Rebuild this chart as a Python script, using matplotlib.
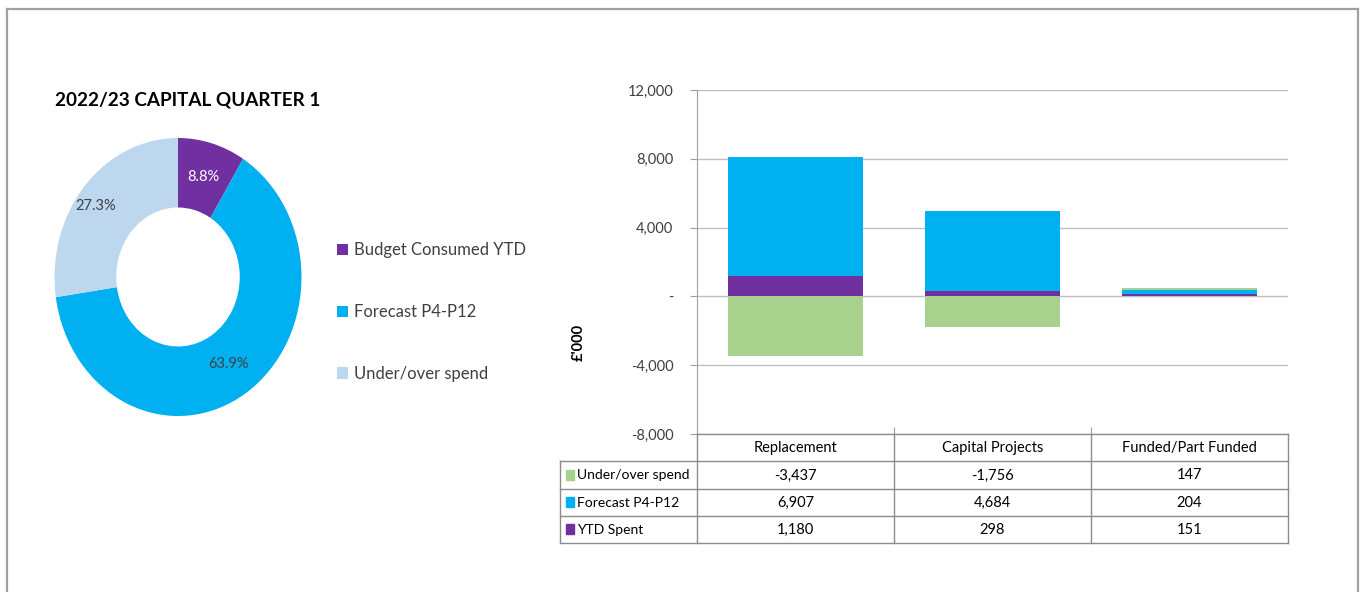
import numpy as np
import matplotlib
matplotlib.use("Agg")
import matplotlib.pyplot as plt
from matplotlib.lines import Line2D
from matplotlib.patches import Rectangle
from matplotlib.ticker import FuncFormatter

plt.rcParams['font.family'] = ['Lato', 'DejaVu Sans']

# data
categories = ["Replacement", "Capital Projects", "Funded/Part Funded"]
ytd_spent = [1180, 298, 151]
forecast = [6907, 4684, 204]
under_over = [-3437, -1756, 147]
pie_labels = ["Budget Consumed YTD", "Forecast P4-P12", "Under/over spend"]
y_ticks = [-8000, -4000, 0, 4000, 8000, 12000]

purple = "#7030A0"
blue = "#00B0F0"
lightblue = "#BDD7EE"
green = "#A9D18E"
txt = "#404040"
W, H = 1365, 592

fig = plt.figure(figsize=(W / 100, H / 100), dpi=100)


def box(l, t, r, b):
    return [l / W, (H - b) / H, (r - l) / W, (b - t) / H]


# outer frame
for xs, ys in [((7, 7), (9, 592)), ((7, 1358), (9, 9)), ((1358, 1358), (9, 592))]:
    fig.add_artist(Line2D([x / W for x in xs], [(H - y) / H for y in ys],
                          color="#A0A0A0", lw=1.6))

# donut
fig.text(55 / W, (H - 100) / H, "2022/23 CAPITAL QUARTER 1", fontsize=13.6,
         weight="bold", color="black", va="center", ha="left")
pie_vals = [sum(ytd_spent), sum(forecast), abs(sum(under_over))]
axp = fig.add_axes(box(54.5, 138, 301.5, 416))
wedges, _, autotexts = axp.pie(pie_vals, colors=[purple, blue, lightblue], startangle=90,
                               counterclock=False, radius=1, autopct="%.1f%%",
                               pctdistance=0.75, wedgeprops=dict(width=0.5),
                               textprops=dict(fontsize=10.5, color=txt))
autotexts[0].set_color("white")
# Excel puts this label a little further out to the left
px, py = autotexts[2].get_position()
autotexts[2].set_position((px - 0.1, py + 0.02))
axp.set_aspect("auto")
axp.set_xlim(-1, 1)
axp.set_ylim(-1, 1)
fig.legend(wedges, pie_labels, loc="center left", bbox_to_anchor=(337 / W, (H - 312) / H),
           frameon=False, fontsize=12, labelcolor=txt, handlelength=0.65, handleheight=0.65,
           handletextpad=0.35, labelspacing=2.75, borderpad=0, borderaxespad=0)

# stacked bars
ax = fig.add_axes(box(697, 90, 1288, 434))
x = np.arange(len(categories)) + 0.5
pos = np.zeros(len(categories))
neg = np.zeros(len(categories))
for vals, col in [(ytd_spent, purple), (forecast, blue), (under_over, green)]:
    v = np.array(vals, dtype=float)
    bottom = np.where(v >= 0, pos, neg)
    ax.bar(x, v, 0.685, bottom=bottom, color=col, zorder=2)
    pos += np.clip(v, 0, None)
    neg += np.clip(v, None, 0)

ax.set_xlim(0, 3)
ax.set_ylim(-8000, 12000)
ax.set_yticks(y_ticks)
ax.yaxis.set_major_formatter(FuncFormatter(lambda v, p: "-" if v == 0 else f"{v:,.0f}"))
ax.tick_params(axis="y", labelsize=10.5, labelcolor=txt, color="#A0A0A0", length=5, pad=12)
ax.set_xticks([1, 2])
ax.tick_params(axis="x", direction="in", length=5, color="#A0A0A0", labelbottom=False)
ax.grid(axis="y", color="#BFBFBF", lw=1, zorder=0)
for s in ["top", "right", "bottom"]:
    ax.spines[s].set_visible(False)
ax.spines["left"].set_color("#A0A0A0")
fig.text(579 / W, (H - 342) / H, "£'000", rotation=90, fontsize=10.5, weight="bold",
         color="black", ha="center", va="center")

# data table
axt = fig.add_axes(box(560, 434, 1288, 543))
lab_w = 137 / 197
axt.set_xlim(-lab_w, 3)
axt.set_ylim(4, 0)
axt.axis("off")
lc = "#8C8C8C"
axt.plot([0, 3], [0, 0], color=lc, lw=1, clip_on=False)
for r in range(1, 5):
    axt.plot([-lab_w, 3], [r, r], color=lc, lw=1, clip_on=False)
axt.plot([-lab_w, -lab_w], [1, 4], color=lc, lw=1, clip_on=False)
for c in range(4):
    axt.plot([c, c], [0, 4], color=lc, lw=1, clip_on=False)

for i, name in enumerate(categories):
    axt.text(i + 0.5, 0.52, name, ha="center", va="center", fontsize=10.5, color="black")

rows = [("Under/over spend", under_over, green), ("Forecast P4-P12", forecast, blue),
        ("YTD Spent", ytd_spent, purple)]
for r, (name, vals, col) in enumerate(rows, start=1):
    axt.add_patch(Rectangle((-lab_w + 0.03, r + 0.32), 0.042, 0.36, color=col, clip_on=False))
    axt.text(-lab_w + 0.085, r + 0.52, name, ha="left", va="center", fontsize=10, color="black")
    for i, v in enumerate(vals):
        axt.text(i + 0.5, r + 0.52, f"{v:,}", ha="center", va="center", fontsize=10.5,
                 color="black")

plt.savefig("out.png", dpi=100)
